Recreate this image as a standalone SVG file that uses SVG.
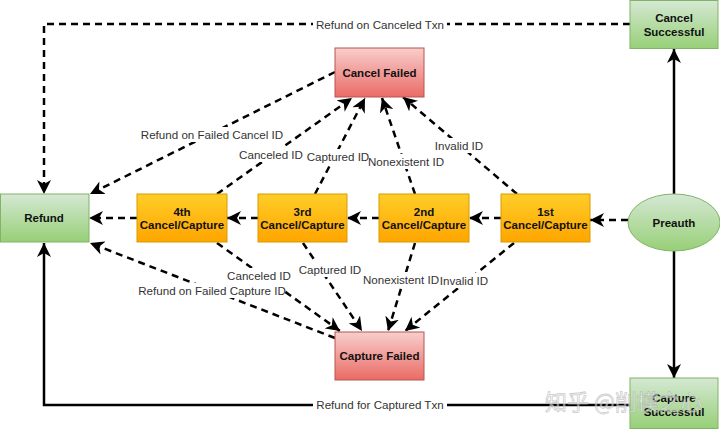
<svg xmlns="http://www.w3.org/2000/svg" width="720" height="429" viewBox="0 0 720 429">
<defs>
<linearGradient id="gGreen" x1="0" y1="0" x2="0" y2="1"><stop offset="0" stop-color="#d5e8d4"/><stop offset="1" stop-color="#97d077"/></linearGradient>
<linearGradient id="gOrange" x1="0" y1="0" x2="0" y2="1"><stop offset="0" stop-color="#ffcd28"/><stop offset="1" stop-color="#ffa500"/></linearGradient>
<linearGradient id="gRed" x1="0" y1="0" x2="0" y2="1"><stop offset="0" stop-color="#f8cecc"/><stop offset="1" stop-color="#ea6b66"/></linearGradient>
<marker id="arr" markerUnits="userSpaceOnUse" markerWidth="16" markerHeight="14" refX="14" refY="7" orient="auto" viewBox="0 0 16 14">
<path d="M0,0 L14,7 L0,14 L4,7 Z" fill="#000" stroke="none"/>
</marker>
<style>
.green{fill:url(#gGreen);stroke:#82b366;stroke-width:1}
.orange{fill:url(#gOrange);stroke:#d79b00;stroke-width:1}
.red{fill:url(#gRed);stroke:#b85450;stroke-width:1}
.nt{font-family:"Liberation Sans",Arial,sans-serif;font-size:11.5px;font-weight:bold;fill:#111;text-anchor:middle}
.e{fill:none;stroke:#000;stroke-width:2.5;marker-end:url(#arr)}
.d{stroke-dasharray:7 5}
.lb{font-family:"Liberation Sans",Arial,sans-serif;font-size:11.6px;fill:#333;text-anchor:middle}
.bg{fill:#fff}
.wm{font-family:"Noto Sans CJK SC","Liberation Sans",sans-serif;font-size:22px;fill:#fff;fill-opacity:0.5;stroke:#aaa;stroke-opacity:0.6;stroke-width:0.8;text-anchor:start}
</style>
</defs>
<g id="connectors">
<path class="e d" d="M630,24 H44 V194"/>
<path class="e" d="M674,194 V49"/>
<path class="e" d="M674,251 V378"/>
<path class="e" d="M630,405 H44 V243"/>
<path class="e d" d="M628,220 H590"/>
<path class="e d" d="M501,218 H469"/>
<path class="e d" d="M379,218 H347"/>
<path class="e d" d="M258,218 H227"/>
<path class="e d" d="M137,218 H89"/>
<path class="e d" d="M335,72 L90,194"/>
<path class="e d" d="M217,194 L352,98"/>
<path class="e d" d="M315,194 L365,98"/>
<path class="e d" d="M415,194 L382,98"/>
<path class="e d" d="M517,194 L403,97"/>
<path class="e d" d="M335,338 L90,243"/>
<path class="e d" d="M217,243 L340,331"/>
<path class="e d" d="M303,243 L362,331"/>
<path class="e d" d="M415,243 L388,331"/>
<path class="e d" d="M514,243 L405,331"/>
<g id="labels">
<rect class="bg" x="313" y="17" width="134" height="15"/><text class="lb" x="380" y="29">Refund on Canceled Txn</text>
<rect class="bg" x="313" y="397" width="134" height="15"/><text class="lb" x="380" y="409">Refund for Captured Txn</text>
<rect class="bg" x="142" y="127" width="140" height="15"/><text class="lb" x="212" y="139">Refund on Failed Cancel ID</text>
<rect class="bg" x="240" y="147" width="62" height="15"/><text class="lb" x="271" y="159">Canceled ID</text>
<rect class="bg" x="307" y="149" width="62" height="15"/><text class="lb" x="338" y="161">Captured ID</text>
<rect class="bg" x="369" y="154" width="74" height="15"/><text class="lb" x="406" y="166">Nonexistent ID</text>
<rect class="bg" x="435" y="138" width="48" height="15"/><text class="lb" x="459" y="150">Invalid ID</text>
<rect class="bg" x="228" y="268" width="62" height="15"/><text class="lb" x="259" y="280">Canceled ID</text>
<rect class="bg" x="139" y="283" width="146" height="15"/><text class="lb" x="212" y="295">Refund on Failed Capture ID</text>
<rect class="bg" x="299" y="262" width="62" height="15"/><text class="lb" x="330" y="274">Captured ID</text>
<rect class="bg" x="364" y="272" width="74" height="15"/><text class="lb" x="401" y="284">Nonexistent ID</text>
<rect class="bg" x="440" y="273" width="48" height="15"/><text class="lb" x="464" y="285">Invalid ID</text>
</g>
</g>
<g id="cancel-successful"><rect class="green" x="630" y="0.5" width="88" height="48"/><text class="nt" x="674" y="22">Cancel</text><text class="nt" x="674" y="36">Successful</text></g>
<g id="cancel-failed"><rect class="red" x="335" y="48" width="89" height="49"/><text class="nt" x="379.5" y="77">Cancel Failed</text></g>
<g id="refund"><rect class="green" x="0.5" y="194" width="88.5" height="48"/><text class="nt" x="44" y="222">Refund</text></g>
<g id="fourth"><rect class="orange" x="137" y="194" width="90" height="48"/><text class="nt" x="182" y="216">4th</text><text class="nt" x="182" y="229">Cancel/Capture</text></g>
<g id="third"><rect class="orange" x="258" y="194" width="89" height="48"/><text class="nt" x="302.5" y="216">3rd</text><text class="nt" x="302.5" y="229">Cancel/Capture</text></g>
<g id="second"><rect class="orange" x="379" y="194" width="90" height="48"/><text class="nt" x="424" y="216">2nd</text><text class="nt" x="424" y="229">Cancel/Capture</text></g>
<g id="first"><rect class="orange" x="501" y="194" width="89" height="48"/><text class="nt" x="545.5" y="216">1st</text><text class="nt" x="545.5" y="229">Cancel/Capture</text></g>
<g id="preauth"><ellipse class="green" cx="674" cy="222.5" rx="46" ry="28.5"/><text class="nt" x="674" y="227">Preauth</text></g>
<g id="capture-failed"><rect class="red" x="335" y="332" width="89" height="48"/><text class="nt" x="379.5" y="360">Capture Failed</text></g>
<g id="capture-successful"><rect class="green" x="630" y="378" width="88" height="50.5"/><text class="nt" x="674" y="402">Capture</text><text class="nt" x="674" y="416">Successful</text></g>
<text class="wm" x="545" y="410">知乎 @削模之心</text>
</svg>
